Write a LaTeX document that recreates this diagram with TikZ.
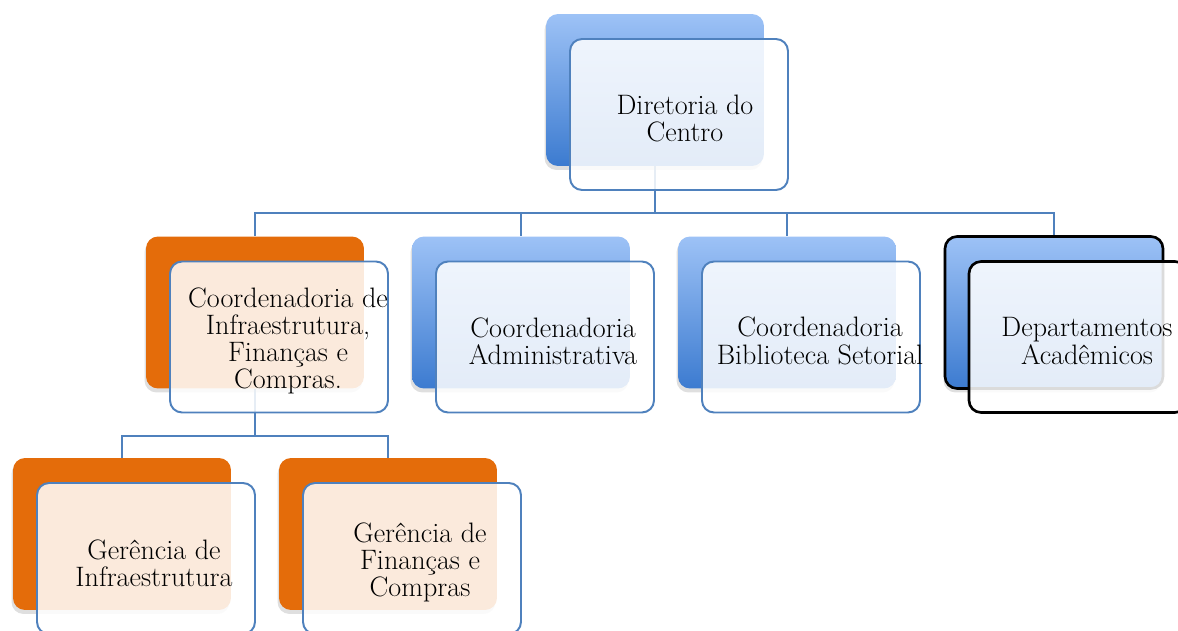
\documentclass[tikz,border=0pt]{standalone}
\usepackage{tikz}
\usetikzlibrary{
    positioning,
    calc,
    shadows,
    backgrounds
}
\definecolor{BackBlueTop}{RGB}{157,194,246}
\definecolor{BackBlueBot}{RGB}{60,123,208}
\definecolor{BackOrange}{RGB}{228,108,10}
\definecolor{LineBlue}{RGB}{79,129,189}

\begin{document}
\begin{tikzpicture}[
                    x=0.02cm, y=-0.02cm,
                    backbox/.style={rectangle, rounded corners=0.24cm, inner sep=0pt,
                                    minimum width=4.36cm, minimum height=3.04cm,
                                    drop shadow={opacity=0.25, shadow xshift=-0.03cm, shadow yshift=-0.08cm}},
                    blueback/.style={backbox, top color=BackBlueTop, bottom color=BackBlueBot},
                    orangeback/.style={backbox, fill=BackOrange},
                    frontbox/.style={rectangle, rounded corners=0.24cm, inner sep=0pt,
                                     minimum width=4.36cm, minimum height=3.02cm,
                                     draw=LineBlue, line width=1.1pt, fill=white, fill opacity=0.86},
                    boxtext/.style={align=center, inner sep=0pt, font=\fontsize{16}{15.5}\selectfont},
                    link/.style={draw=LineBlue, line width=1.1pt},
                ]
                  \def\dx{24}
                  \def\dy{24.5}

                  \useasboundingbox (0,0) rectangle (1178,631);
                  \clip (0,0) rectangle (1178,631);

                  % ---- back boxes ----
                  \node[blueback] (dir) at (655,90) {};
                  \node[orangeback] (c1) at (255,312.5) {};
                  \node[blueback] (c2) at (521,312.5) {};
                  \node[blueback] (c3) at (787,312.5) {};
                  \node[blueback, draw=black, line width=1.5pt] (c4) at (1054,312.5) {};
                  \node[orangeback] (g1) at (122,534) {};
                  \node[orangeback] (g2) at (388,534) {};

                  % ---- front boxes ----
                  \node[frontbox] (dirF) at ([shift={(\dx,\dy)}]dir.center) {};
                  \node[frontbox] (c1F) at ([shift={(\dx,\dy)}]c1.center) {};
                  \node[frontbox] (c2F) at ([shift={(\dx,\dy)}]c2.center) {};
                  \node[frontbox] (c3F) at ([shift={(\dx,\dy)}]c3.center) {};
                  \node[frontbox, draw=black, line width=1.5pt] (c4F) at ([shift={(\dx,\dy)}]c4.center) {};
                  \node[frontbox] (g1F) at ([shift={(\dx,\dy)}]g1.center) {};
                  \node[frontbox] (g2F) at ([shift={(\dx,\dy)}]g2.center) {};

                  % ---- texts ----
                  \node[boxtext] (dirT) at ([shift={(6,4)}]dirF.center) {Diretoria do\\Centro};
                  \node[boxtext] (c1T) at ([shift={(9,4)}]c1F.center) {Coordenadoria de\\Infraestrutura,\\Finanças e\\Compras.};
                  \node[boxtext] (c2T) at ([shift={(8,4)}]c2F.center) {Coordenadoria\\Administrativa};
                  \node[boxtext] (c3T) at ([shift={(9,4)}]c3F.center) {Coordenadoria\\Biblioteca Setorial};
                  \node[boxtext] (c4T) at ([shift={(9,4)}]c4F.center) {Departamentos\\Acadêmicos};
                  \node[boxtext] (g1T) at ([shift={(8,5)}]g1F.center) {Gerência de\\Infraestrutura};
                  \node[boxtext] (g2T) at ([shift={(8,4)}]g2F.center) {Gerência de\\Finanças e\\Compras};

                  % ---- connectors ----
                  \begin{scope}[on background layer]
                    \foreach \kid in {c1,c2,c3,c4}
                      \draw[link] (dir.south) -- ++(0,47) -| (\kid.north);
                    \foreach \kid in {g1,g2}
                      \draw[link] (c1.south) -- ++(0,47) -| (\kid.north);
                  \end{scope}
                \end{tikzpicture}
\end{document}
